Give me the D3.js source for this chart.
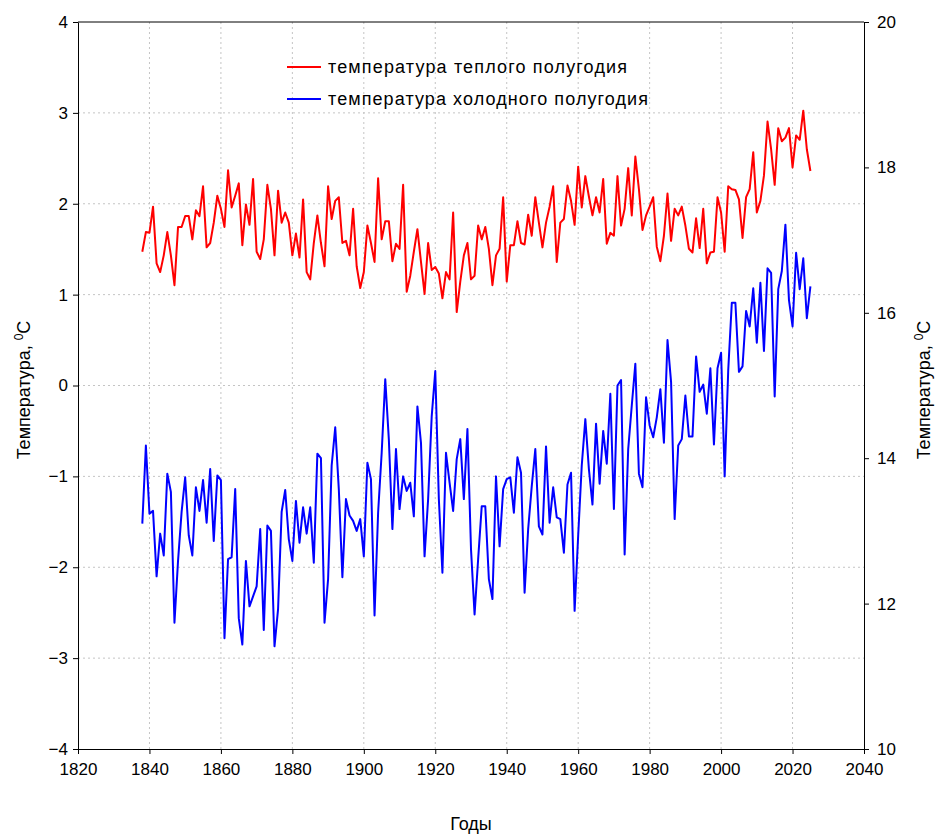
<!DOCTYPE html>
<html><head><meta charset="utf-8">
<script src="https://cdn.jsdelivr.net/npm/d3@7"></script>
<style>body{margin:0;background:#fff}svg{display:block}text{font-family:Arial,"Liberation Sans",sans-serif}</style>
</head><body><svg id="c" width="935" height="834"></svg>
<script>
const firstYear = 1838;
// warm half-year temperature, °C (right axis)
const warmTemp = [16.84,17.11,17.10,17.46,16.68,16.56,16.79,17.11,16.79,16.38,17.18,17.18,17.33,17.33,17.01,17.41,17.33,17.74,16.90,16.96,17.24,17.61,17.43,17.18,17.96,17.45,17.61,17.78,16.93,17.49,17.21,17.84,16.84,16.74,17.01,17.76,17.43,16.79,17.68,17.24,17.38,17.24,16.79,17.09,16.76,17.56,16.56,16.46,16.96,17.34,16.96,16.64,17.74,17.29,17.54,17.59,16.96,16.99,16.79,17.43,16.64,16.34,16.56,17.20,16.96,16.70,17.85,17.01,17.26,17.26,16.71,16.95,16.88,17.76,16.29,16.51,16.84,17.15,16.70,16.26,16.96,16.59,16.63,16.54,16.20,16.56,16.46,17.38,16.01,16.43,16.79,16.96,16.46,16.51,17.20,17.01,17.18,16.88,16.38,16.79,16.88,17.59,16.43,16.93,16.93,17.26,16.96,16.94,17.35,17.06,17.59,17.24,16.90,17.24,17.46,17.74,16.70,17.24,17.29,17.75,17.54,17.21,18.01,17.45,17.88,17.60,17.34,17.59,17.38,17.84,16.95,17.10,17.06,17.88,17.20,17.43,17.99,17.34,18.15,17.70,17.14,17.34,17.46,17.59,16.91,16.71,17.06,17.64,16.99,17.43,17.34,17.46,17.20,16.88,16.83,17.30,16.89,17.43,16.68,16.83,16.84,17.59,17.38,16.84,17.74,17.70,17.69,17.56,17.03,17.59,17.70,18.21,17.38,17.54,17.89,18.63,18.25,17.76,18.54,18.36,18.41,18.54,18.00,18.44,18.38,18.78,18.25,17.95];
// cold half-year temperature, °C (left axis)
const coldTemp = [-1.52,-0.66,-1.41,-1.38,-2.10,-1.63,-1.87,-0.97,-1.17,-2.61,-1.93,-1.39,-1.01,-1.65,-1.87,-1.12,-1.38,-1.04,-1.51,-0.92,-1.71,-0.99,-1.04,-2.78,-1.91,-1.89,-1.14,-2.56,-2.85,-1.93,-2.43,-2.32,-2.21,-1.58,-2.69,-1.54,-1.60,-2.87,-2.46,-1.39,-1.15,-1.69,-1.93,-1.27,-1.73,-1.34,-1.63,-1.34,-1.95,-0.75,-0.80,-2.61,-2.13,-0.88,-0.46,-1.14,-2.11,-1.25,-1.43,-1.49,-1.60,-1.47,-1.88,-0.85,-1.03,-2.53,-1.40,-0.74,0.07,-0.59,-1.58,-0.70,-1.36,-1.00,-1.16,-1.07,-1.44,-0.23,-0.63,-1.88,-1.25,-0.34,0.16,-1.25,-2.06,-0.74,-1.07,-1.38,-0.81,-0.59,-1.25,-0.48,-1.80,-2.52,-1.91,-1.33,-1.33,-2.13,-2.35,-1.00,-1.77,-1.14,-1.03,-1.01,-1.40,-0.79,-0.96,-2.28,-1.58,-1.11,-0.70,-1.55,-1.64,-0.67,-1.51,-1.12,-1.45,-1.47,-1.84,-1.09,-0.96,-2.48,-1.65,-0.88,-0.37,-0.92,-1.31,-0.42,-1.08,-0.50,-0.86,-0.09,-1.36,0.00,0.06,-1.86,-0.70,-0.22,0.24,-0.97,-1.12,-0.13,-0.44,-0.57,-0.35,-0.04,-0.63,0.50,0.04,-1.47,-0.66,-0.59,-0.11,-0.56,-0.56,0.32,-0.07,0.01,-0.31,0.19,-0.65,0.19,0.36,-1.00,0.17,0.91,0.91,0.15,0.21,0.82,0.65,1.07,0.47,1.13,0.38,1.29,1.24,-0.12,1.06,1.26,1.77,0.94,0.65,1.46,1.06,1.40,0.74,1.09];
const xTicks = [1820,1840,1860,1880,1900,1920,1940,1960,1980,2000,2020,2040];
const leftTicks = [-4,-3,-2,-1,0,1,2,3,4];
const rightTicks = [10,12,14,16,18,20];
const legendLabels = ["температура теплого полугодия","температура холодного полугодия"];
const axisTitleLeft = "Температура, ", axisTitleX = "Годы";

const svg = d3.select("#c");
const L = 78, R = 864, T = 22, B = 749;
const x = d3.scaleLinear().domain([1820,2040]).range([L,R]);
const yL = d3.scaleLinear().domain([-4,4]).range([B,T]);
const yR = d3.scaleLinear().domain([10,20]).range([B,T]);

// grid
const grid = svg.append("g").attr("stroke","#c4c4c4").attr("stroke-width",1).attr("stroke-dasharray","2,3");
xTicks.slice(1,-1).forEach(t=>grid.append("line").attr("x1",x(t)).attr("x2",x(t)).attr("y1",T).attr("y2",B));
leftTicks.slice(1,-1).forEach(t=>grid.append("line").attr("y1",yL(t)).attr("y2",yL(t)).attr("x1",L).attr("x2",R));

const fs = "17px";
const gx = svg.append("g").attr("transform",`translate(0,${B})`).call(d3.axisBottom(x).tickValues(xTicks).tickFormat(d3.format("d")).tickSizeInner(5).tickSizeOuter(0));
const gl = svg.append("g").attr("transform",`translate(${L},0)`).call(d3.axisLeft(yL).tickValues(leftTicks).tickFormat(d3.format("d")).tickSizeInner(5).tickSizeOuter(0));
const gr = svg.append("g").attr("transform",`translate(${R},0)`).call(d3.axisRight(yR).tickValues(rightTicks).tickFormat(d3.format("d")).tickSizeInner(5).tickSizeOuter(0));
[gx,gl,gr].forEach(g=>{g.selectAll("text").attr("font-size",fs).attr("fill","#000").style("font-family","Arial, 'Liberation Sans', sans-serif");g.selectAll("line,path").attr("stroke","#000");});
gx.selectAll("text").attr("y",14).attr("dy","0.71em");
gl.selectAll("text").attr("x",-10);
gr.selectAll("text").attr("x",13);
svg.append("line").attr("x1",L).attr("x2",R).attr("y1",T).attr("y2",T).attr("stroke","#000");

// lines
const years = warmTemp.map((d,i)=>firstYear+i);
const lineR = d3.line().x((d,i)=>x(years[i])).y(d=>yR(d));
const lineL = d3.line().x((d,i)=>x(years[i])).y(d=>yL(d));
svg.append("path").datum(coldTemp).attr("d",lineL).attr("fill","none").attr("stroke","#0000ff").attr("stroke-width",2).attr("stroke-linejoin","round");
svg.append("path").datum(warmTemp).attr("d",lineR).attr("fill","none").attr("stroke","#ff0000").attr("stroke-width",2).attr("stroke-linejoin","round");

// legend
const lg = svg.append("g");
[["#ff0000",legendLabels[0],67,299],["#0000ff",legendLabels[1],99,320]].forEach(([c,t,y,w])=>{
  lg.append("line").attr("x1",287).attr("x2",321).attr("y1",y).attr("y2",y).attr("stroke",c).attr("stroke-width",2);
  lg.append("text").attr("x",328).attr("y",y+6).attr("font-size","18px").attr("textLength",w).attr("lengthAdjust","spacing").text(t);
});

// axis titles
function yTitle(cx){
  const t = svg.append("text").attr("transform",`translate(${cx},390) rotate(-90)`).attr("text-anchor","middle").attr("font-size","18px");
  t.append("tspan").text(axisTitleLeft);
  t.append("tspan").attr("font-size","12px").attr("dy","-7").text("0");
  t.append("tspan").attr("dy","7").text("C");
}
yTitle(30); yTitle(930);
svg.append("text").attr("x",471).attr("y",830).attr("text-anchor","middle").attr("font-size","18px").text(axisTitleX);
</script></body></html>
